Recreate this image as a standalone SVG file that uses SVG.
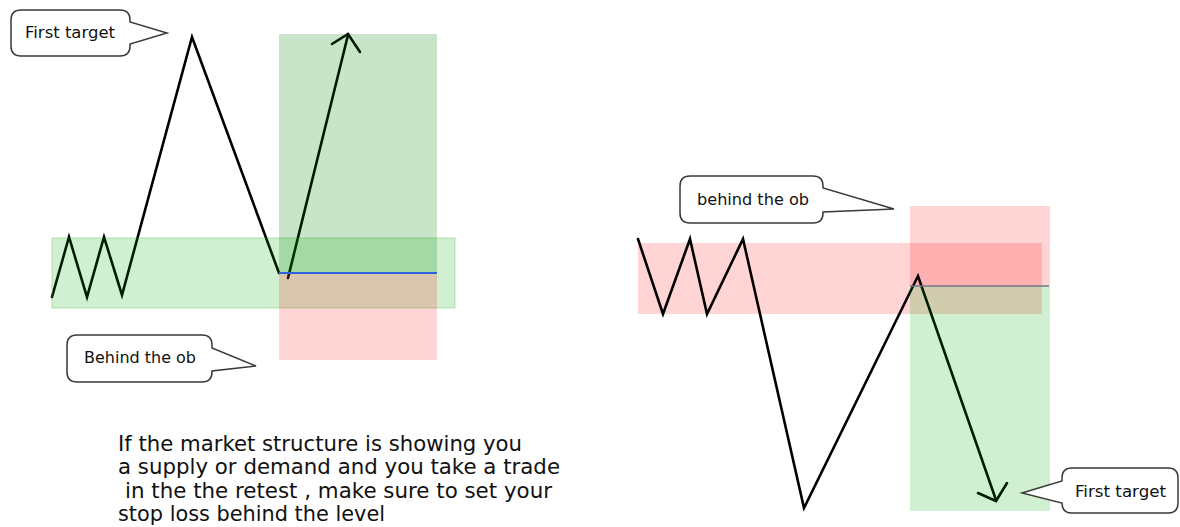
<svg xmlns="http://www.w3.org/2000/svg" width="1180" height="527" viewBox="0 0 1180 527">
<style>
.line{fill:none;stroke:#000;stroke-width:2.6;stroke-linejoin:miter;stroke-linecap:round}
.callout{fill:#fff;stroke:#3a3a3a;stroke-width:1.5}
.ctext{font-family:"DejaVu Sans",Verdana,sans-serif;font-size:16px;fill:#111}
.note{font-family:"DejaVu Sans",Verdana,sans-serif;font-size:21px;fill:#111}
.gz{fill:#00aa00;fill-opacity:0.18}
.gt{fill:#008000;fill-opacity:0.21}
.rz{fill:#ff0000;fill-opacity:0.17}
</style>
<rect width="1180" height="527" fill="#fff"/>
<g id="right-zones-back">
  <rect class="rz" x="638" y="243" width="404" height="71"/>
  <rect class="rz" x="910" y="206" width="140" height="80"/>
</g>
<g id="connectors">
  <polyline class="line" points="52,297 69,237 87,297 104,237 122,295 192,37 279,273"/>
  <line class="line" x1="288" y1="278" x2="348" y2="35"/>
  <polyline class="line" points="332,44 348,34 360,52"/>
  <polyline class="line" points="638,239 663,314 690,239 707,314 743,239 804,508 918,276 996,500"/>
  <polyline class="line" points="978,493 996,501 1007,483"/>
</g>
<g id="left-zones">
  <rect class="gz" x="52" y="238" width="403" height="70" stroke="#3cb43c" stroke-opacity="0.35" stroke-width="1"/>
  <rect class="gt" x="279" y="34" width="158" height="239"/>
  <rect class="rz" x="279" y="273" width="158" height="87"/>
  <line x1="279" y1="273" x2="437" y2="273" stroke="#2f62e0" stroke-width="2"/>
</g>
<g id="right-zones-front">
  <rect class="gz" x="910" y="286" width="140" height="225"/>
  <line x1="910" y1="286" x2="1049" y2="286" stroke="#6d7886" stroke-width="1.5"/>
</g>
<g id="callout-first-target-left">
  <path class="callout" d="M21,10 H120 Q130,10 130,20 V22 L167,33 L130,44 V46 Q130,56 120,56 H21 Q11,56 11,46 V20 Q11,10 21,10 Z"/>
  <text class="ctext" x="25" y="38" textLength="90" lengthAdjust="spacingAndGlyphs">First target</text>
</g>
<g id="callout-behind-left">
  <path class="callout" d="M77,335 H202 Q212,335 212,345 V348 L256,366 L212,371 V372 Q212,382 202,382 H77 Q67,382 67,372 V345 Q67,335 77,335 Z"/>
  <text class="ctext" x="84" y="363" textLength="112" lengthAdjust="spacingAndGlyphs">Behind the ob</text>
</g>
<g id="callout-behind-right">
  <path class="callout" d="M690,176 H813 Q823,176 823,186 V188 L894,209 L823,212 V213 Q823,223 813,223 H690 Q680,223 680,213 V186 Q680,176 690,176 Z"/>
  <text class="ctext" x="697" y="205" textLength="112" lengthAdjust="spacingAndGlyphs">behind the ob</text>
</g>
<g id="callout-first-target-right">
  <path class="callout" d="M1072,468 H1168 Q1178,468 1178,478 V503 Q1178,513 1168,513 H1072 Q1062,513 1062,503 V503 L1022,493 L1062,481 V478 Q1062,468 1072,468 Z"/>
  <text class="ctext" x="1075" y="497" textLength="91" lengthAdjust="spacingAndGlyphs">First target</text>
</g>
<g id="note">
  <text class="note" x="118" y="451" textLength="404" lengthAdjust="spacingAndGlyphs">If the market structure is showing you</text>
  <text class="note" x="118" y="474" textLength="442" lengthAdjust="spacingAndGlyphs">a supply or demand and you take a trade</text>
  <text class="note" x="125" y="498" textLength="427" lengthAdjust="spacingAndGlyphs">in the the retest , make sure to set your</text>
  <text class="note" x="118" y="521" textLength="267" lengthAdjust="spacingAndGlyphs">stop loss behind the level</text>
</g>
</svg>
